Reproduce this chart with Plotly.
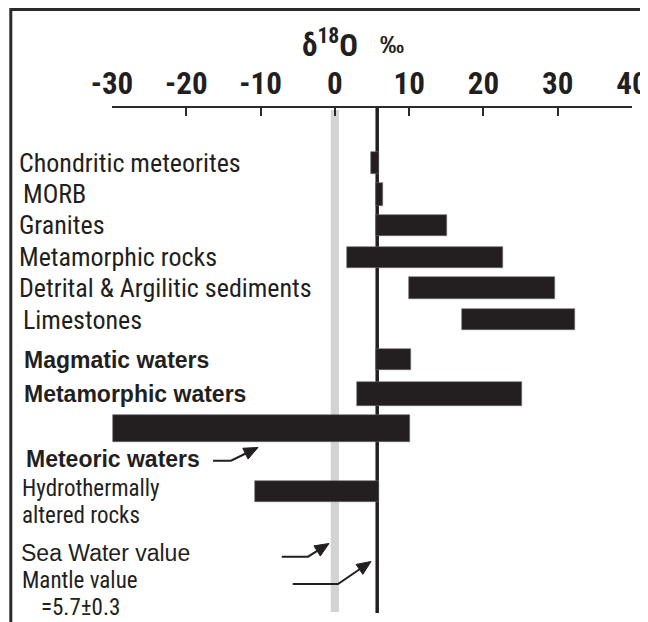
import math
import plotly.graph_objects as go

# ---------------- data ----------------
categories = ["Chondritic meteorites", "MORB", "Granites", "Metamorphic rocks",
              "Detrital & Argilitic sediments", "Limestones", "Magmatic waters",
              "Metamorphic waters", "Meteoric waters", "Hydrothermally altered rocks"]
d18o_low = [4.9, 5.6, 5.6, 1.6, 10.0, 17.1, 5.6, 3.0, -29.9, -10.8]
d18o_high = [6.0, 6.5, 15.1, 22.6, 29.7, 32.3, 10.2, 25.2, 10.1, 5.9]
sea_water_value = 0.0
mantle_value = 5.7
x_ticks = [-30, -20, -10, 0, 10, 20, 30, 40]

# ---------------- layout helpers ----------------
# the page body has an 8px margin, so the figure is drawn 8px in from the window edge
OFF = 8
FW, FH = 648 - OFF, 622 - OFF


def px(x):
    """window x pixel -> paper fraction"""
    return (x - OFF) / FW


def py(y):
    """window y pixel -> paper fraction"""
    return 1 - (y - OFF) / FH


row_slot = [0, 1, 1.98, 2.99, 3.96, 4.98, 6.25, 7.33, 8.44, 10.44]
bar_thick = [0.68, 0.70, 0.67, 0.67, 0.70, 0.67, 0.66, 0.76, 0.86, 0.67]
label_style = ["c", "c", "c", "c", "c", "c", "b", "b", None, None]
label_x = [17, 21, 17, 17, 17, 21, 22, 22, None, None]

COND = "Liberation Sans Narrow, Arial Narrow, Roboto Condensed, DejaVu Sans Condensed, sans-serif"
SANS = "Liberation Sans, Arial, sans-serif"
INK = "#231f20"

fig = go.Figure()
fig.add_trace(go.Bar(
    y=row_slot,
    x=[h - l for l, h in zip(d18o_low, d18o_high)],
    base=d18o_low,
    orientation="h",
    width=bar_thick,
    marker=dict(color=INK, line=dict(color="#6a6a6a", width=0.6)),
    hoverinfo="skip",
    showlegend=False,
))

shapes = [
    # frame
    dict(type="rect", xref="paper", yref="paper", x0=px(10.8), x1=1.05, y0=-0.05, y1=py(9.5),
         line=dict(color="#2a2a2a", width=3), fillcolor="rgba(0,0,0,0)", layer="above"),
    # sea water band
    dict(type="rect", xref="x", yref="paper", x0=sea_water_value - 0.55, x1=sea_water_value + 0.55,
         y0=py(612), y1=py(110), fillcolor="#d3d3d3", line=dict(width=0), layer="below"),
    # mantle line
    dict(type="line", xref="x", yref="paper", x0=mantle_value, x1=mantle_value,
         y0=py(613), y1=py(108), line=dict(color=INK, width=3.5), layer="below"),
]


def bent_arrow(start, corner, tip, head_len=14, head_half=6):
    dx, dy = tip[0] - corner[0], tip[1] - corner[1]
    n = math.hypot(dx, dy)
    ux, uy = dx / n, dy / n
    bx, by = tip[0] - head_len * ux, tip[1] - head_len * uy
    p1 = (bx - head_half * uy, by + head_half * ux)
    p2 = (bx + head_half * uy, by - head_half * ux)

    def P(p):
        return f"{px(p[0]):.5f},{py(p[1]):.5f}"

    line_path = f"M{P(start)} L{P(corner)} L{P((bx + 2 * ux, by + 2 * uy))}"
    head_path = f"M{P(tip)} L{P(p1)} L{P(p2)} Z"
    return [
        dict(type="path", xref="paper", yref="paper", path=line_path,
             line=dict(color=INK, width=2), fillcolor="rgba(0,0,0,0)"),
        dict(type="path", xref="paper", yref="paper", path=head_path,
             line=dict(color=INK, width=1), fillcolor=INK),
    ]


shapes += bent_arrow((213, 460.7), (231, 460.7), (258, 447.5))
shapes += bent_arrow((281.7, 556.7), (308, 556.7), (329, 543.5))
shapes += bent_arrow((292.7, 584), (338, 584), (371, 561.5))

ann = []
for i, name in enumerate(categories):
    st = label_style[i]
    if st is None:
        continue
    if st == "c":
        f = dict(family=COND, size=26, color=INK)
    else:
        f = dict(family=SANS, size=23, color=INK, weight="bold")
    ann.append(dict(x=px(label_x[i]), xref="paper", y=row_slot[i], yref="y", text=name,
                    showarrow=False, xanchor="left", yanchor="middle", font=f))

extra = [
    ("Meteoric waters", 24, 459, dict(family=SANS, size=23, color=INK, weight="bold")),
    ("Hydrothermally", 20, 488, dict(family=COND, size=23, color=INK)),
    ("altered rocks", 20, 515.5, dict(family=COND, size=23, color=INK)),
    ("Sea Water value", 19, 553, dict(family=SANS, size=23, color=INK)),
    ("Mantle value", 20, 580, dict(family=COND, size=23, color=INK)),
    ("=5.7\u00b10.3", 39, 607.5, dict(family=COND, size=23, color=INK)),
]
for t, x, y, f in extra:
    ann.append(dict(x=px(x), xref="paper", y=py(y), yref="paper", text=t, showarrow=False,
                    xanchor="left", yanchor="middle", font=f))

# title
ann.append(dict(x=px(329.5), y=py(43), xref="paper", yref="paper",
                xanchor="center", yanchor="middle",
                text="<b>\u03b4<sup>18</sup>O</b>", showarrow=False,
                font=dict(family=COND, size=31, color=INK)))
ann.append(dict(x=px(392), y=py(44), xref="paper", yref="paper",
                xanchor="center", yanchor="middle",
                text="<b>\u2030</b>", showarrow=False,
                font=dict(family=SANS, size=24, color=INK)))

fig.update_layout(
    width=FW, height=FH,
    margin=dict(l=0, r=0, t=0, b=0, autoexpand=False),
    paper_bgcolor="white", plot_bgcolor="white",
    bargap=0,
    shapes=shapes,
    annotations=ann,
    xaxis=dict(
        domain=[px(112), px(632)],
        range=[-30, 40],
        side="top",
        automargin=False,
        tickmode="array", tickvals=x_ticks, ticktext=[str(v) for v in x_ticks],
        ticks="inside", ticklen=8, tickwidth=2, tickcolor="#2a2a2a",
        showline=True, linecolor="#2a2a2a", linewidth=2,
        showgrid=False, zeroline=False,
        tickfont=dict(family=COND, size=31, color=INK, weight="bold"),
        fixedrange=True,
    ),
    yaxis=dict(
        domain=[0, py(108)],
        range=[14.571, -1.746],
        visible=False,
        automargin=False,
        showgrid=False, zeroline=False,
        fixedrange=True,
    ),
)

fig.write_html("out.html")
